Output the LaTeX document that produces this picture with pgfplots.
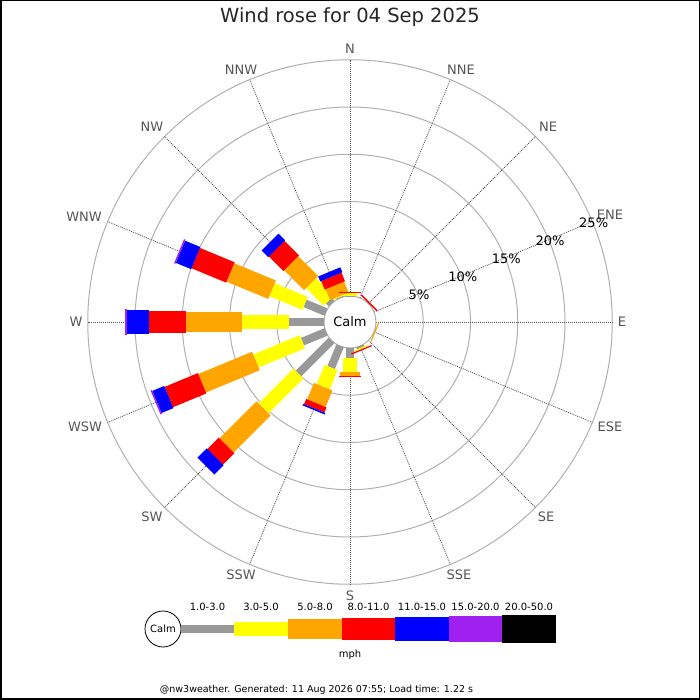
\documentclass[border=0pt]{standalone}
\usepackage{pgfplots}
\pgfplotsset{compat=1.18}
\usepackage{pgfplotstable}
\usepackage{fontspec}
\setmainfont{DejaVu Sans}
\definecolor{wgray}{HTML}{999999}
\definecolor{wyellow}{HTML}{FFFF00}
\definecolor{worange}{HTML}{FFA500}
\definecolor{wred}{HTML}{FF0000}
\definecolor{wblue}{HTML}{0000FF}
\definecolor{wpurple}{HTML}{A020F0}
\definecolor{wblack}{HTML}{000000}
\definecolor{ringcol}{HTML}{B0B0B0}
\definecolor{spokecol}{HTML}{555555}
\definecolor{labcol}{HTML}{555555}
\newcommand\fs[1]{\fontsize{#1bp}{#1bp}\selectfont}
% cumulative percentages per direction (compass degrees): c1 = 1-3 mph ... c7 = 20-50 mph
\pgfplotstableread{
d c0 c1 c2 c3 c4 c5 c6 c7
0 0 0.05 0.30 0.30 0.45 0.45 0.45 0.45
22.5 0 0 0 0 0 0 0 0
45 0 0.05 0.05 0.05 0.20 0.20 0.20 0.20
67.5 0 0 0 0 0 0 0 0
90 0 0 0 0 0 0 0 0
112.5 0 0.03 0.03 0.15 0.15 0.15 0.15 0.15
135 0 0 0 0 0 0 0 0
157.5 0 0.21 0.37 0.37 0.50 0.50 0.50 0.50
180 0 1.06 2.51 2.93 3.10 3.10 3.10 3.10
202.5 0 2.47 4.66 6.55 7.14 7.32 7.32 7.32
225 0 4.97 10.19 15.72 17.43 18.81 18.81 18.81
247.5 0 2.70 8.03 14.19 18.00 19.37 19.52 19.52
270 0 3.67 8.71 14.63 18.49 20.88 21.06 21.06
292.5 0 2.40 6.18 10.95 14.92 16.67 16.83 16.83
315 0 0.44 3.08 6.05 8.22 9.21 9.21 9.21
337.5 0 0.10 0.20 1.44 2.42 2.99 2.99 2.99
}\winddata
% radius(px) = 26 + 9.45 * percent ; centre at (350,378)
\newcommand\seg[4]{%
\addplot[draw=#1, line width=#2bp, line cap=butt,
  quiver={u={9.45*(\thisrow{#4}-\thisrow{#3})*cos(90-\thisrow{d})},
          v={9.45*(\thisrow{#4}-\thisrow{#3})*sin(90-\thisrow{d})}}]
  table[x expr={350+(26+9.45*\thisrow{#3})*cos(90-\thisrow{d})},
        y expr={378+(26+9.45*\thisrow{#3})*sin(90-\thisrow{d})}] {\winddata};}
% label at image pixel position (x, y from top)
\newcommand\dirlab[3]{\node[text=labcol,font=\fs{13}] at (axis cs:#1,{700-#2}) {#3};}
\newcommand\pctlab[2]{\node[font=\fs{13}, yshift=-1.5bp] at (axis cs:{350+(27.5+9.45*#1)*cos(22.5)},{378+(27.5+9.45*#1)*sin(22.5)}) {#2};}
\begin{document}
\begin{tikzpicture}
\begin{axis}[at={(0,0)}, anchor=south west, scale only axis,
  width=700bp, height=700bp, xmin=0, xmax=700, ymin=0, ymax=700,
  hide axis, clip=false]
% rings
\pgfplotsinvokeforeach{73.25,120.5,167.75,215,262.25}{
  \draw[ringcol, line width=1bp] (axis cs:350,378) circle[radius=#1];}
% spokes
\pgfplotsinvokeforeach{0,22.5,45,67.5,90,112.5,135,157.5,180,202.5,225,247.5,270,292.5,315,337.5}{
  \draw[spokecol, line width=0.8bp, dash pattern=on 1bp off 1bp]
   (axis cs:{350+26*cos(90-#1)},{378+26*sin(90-#1)}) -- (axis cs:{350+262.25*cos(90-#1)},{378+262.25*sin(90-#1)});}
% calm circle
\draw[ringcol, line width=1bp, fill=white] (axis cs:350,378) circle[radius=26];
% bars
\seg{wgray}{8}{c0}{c1}
\seg{wyellow}{14}{c1}{c2}
\seg{worange}{20}{c2}{c3}
\seg{wred}{22}{c3}{c4}
\seg{wblue}{24}{c4}{c5}
\seg{wpurple}{26}{c5}{c6}
\seg{wblack}{28}{c6}{c7}
\node[font=\fs{13}] at (axis cs:350,378) {Calm};
% direction labels
\dirlab{350}{49}{N}\dirlab{461}{70}{NNE}\dirlab{548}{127}{NE}\dirlab{610}{215}{ENE}
\dirlab{622}{322}{E}\dirlab{610}{427}{ESE}\dirlab{546}{517}{SE}\dirlab{459}{575}{SSE}
\dirlab{350}{596}{S}\dirlab{241}{575}{SSW}\dirlab{152}{517}{SW}\dirlab{85}{427}{WSW}
\dirlab{76}{322}{W}\dirlab{84}{217}{WNW}\dirlab{152}{127}{NW}\dirlab{241}{70}{NNW}
% percent labels
\pctlab{5}{5\%}\pctlab{10}{10\%}\pctlab{15}{15\%}\pctlab{20}{20\%}\pctlab{25}{25\%}
% title
\node[font=\fs{19.5}, text=black!85] at (axis cs:350,683) {Wind rose for 04 Sep 2025};
% legend
\draw[black, line width=0.8bp, fill=white] (axis cs:163,71) circle[radius=18];
\node[font=\fs{10}] at (axis cs:163,71) {Calm};
\fill[wgray] (axis cs:181,67) rectangle (axis cs:234,75);
\fill[wyellow] (axis cs:234,64) rectangle (axis cs:288,78);
\fill[worange] (axis cs:288,61) rectangle (axis cs:342,81);
\fill[wred] (axis cs:342,60) rectangle (axis cs:395,82);
\fill[wblue] (axis cs:395,59) rectangle (axis cs:449,83);
\fill[wpurple] (axis cs:449,58) rectangle (axis cs:502,84);
\fill[wblack] (axis cs:502,57) rectangle (axis cs:556,85);
\node[font=\fs{10}] at (axis cs:207.5,93) {1.0-3.0};
\node[font=\fs{10}] at (axis cs:261,93) {3.0-5.0};
\node[font=\fs{10}] at (axis cs:315,93) {5.0-8.0};
\node[font=\fs{10}] at (axis cs:368.5,93) {8.0-11.0};
\node[font=\fs{10}] at (axis cs:422,93) {11.0-15.0};
\node[font=\fs{10}] at (axis cs:475.5,93) {15.0-20.0};
\node[font=\fs{10}] at (axis cs:529,93) {20.0-50.0};
\node[font=\fs{10}] at (axis cs:350,45) {mph};
\node[font=\fs{9.5}] at (axis cs:316.5,10) {@nw3weather. Generated: 11 Aug 2026 07:55; Load time: 1.22 s};
\end{axis}
\draw[black, line width=3bp] (0,0) rectangle (700bp,700bp);
\pgfresetboundingbox
\useasboundingbox (0,0) rectangle (700bp,700bp);
\end{tikzpicture}
\end{document}
